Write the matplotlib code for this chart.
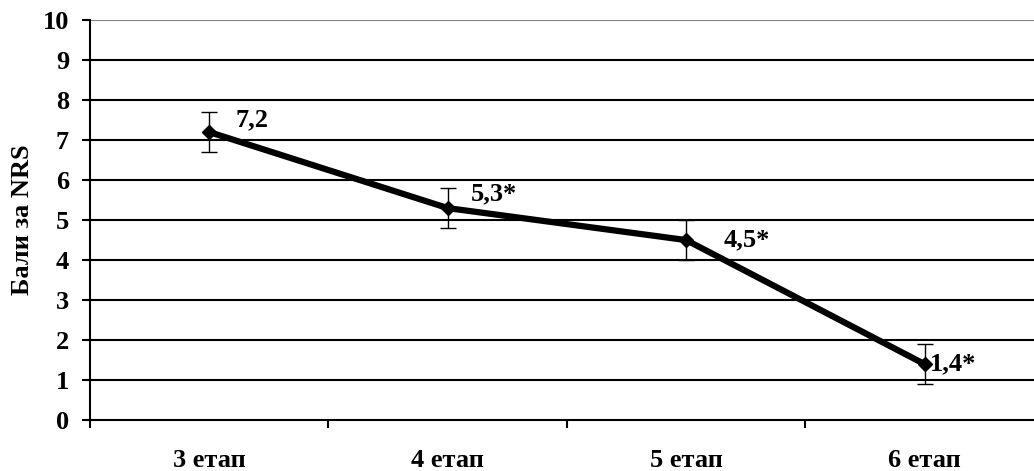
import matplotlib
matplotlib.use("Agg")
import matplotlib.pyplot as plt
import numpy as np

stages = ["3 етап", "4 етап", "5 етап", "6 етап"]
scores = [7.2, 5.3, 4.5, 1.4]
errors = [0.5, 0.5, 0.5, 0.5]
labels = ["7,2", "5,3*", "4,5*", "1,4*"]
label_offsets = [(19, 9), (17, 10), (27, 0), (4, 0)]

plt.rcParams['font.family'] = ['Liberation Serif', 'DejaVu Serif']
plt.rcParams['font.weight'] = 'bold'
fs = 19

fig = plt.figure(figsize=(10.34, 4.71), dpi=100)
ax = fig.add_axes([0.087, 0.108, 0.9225, 0.8495])

x = np.arange(len(stages)) + 0.5
ax.errorbar(x, scores, yerr=errors, color='black', lw=4.5, ecolor='black',
            elinewidth=1, capsize=5.5, capthick=1, marker='D', ms=7, zorder=3)

for xi, yi, txt, off in zip(x, scores, labels, label_offsets):
    ax.annotate(txt, (xi, yi), xytext=off, textcoords='offset points',
                ha='left', va='center', fontsize=fs, fontweight='bold')

ax.set_xlim(0, len(stages))
ax.set_ylim(0, 10)
ax.set_yticks(range(0, 11))
ax.set_xticks(range(0, len(stages) + 1))
ax.set_xticklabels([])
ax.set_xticks(x, minor=True)
ax.set_xticklabels(stages, minor=True)
ax.tick_params(axis='x', which='minor', length=0, pad=21, labelsize=fs)
ax.tick_params(axis='x', which='major', length=6, width=1.5, direction='out')
ax.tick_params(axis='y', length=6, width=1.5, labelsize=fs, pad=9)

for v in range(1, 11):
    ax.axhline(v, color='black' if v < 10 else '#808080', lw=1.5, zorder=1)

for s in ['top', 'right']:
    ax.spines[s].set_visible(False)
ax.spines['left'].set_linewidth(1.5)
ax.spines['bottom'].set_linewidth(1.5)

ax.set_ylabel("Бали за NRS", fontsize=fs, fontweight='bold', labelpad=6)

fig.savefig("out.png", dpi=100)
